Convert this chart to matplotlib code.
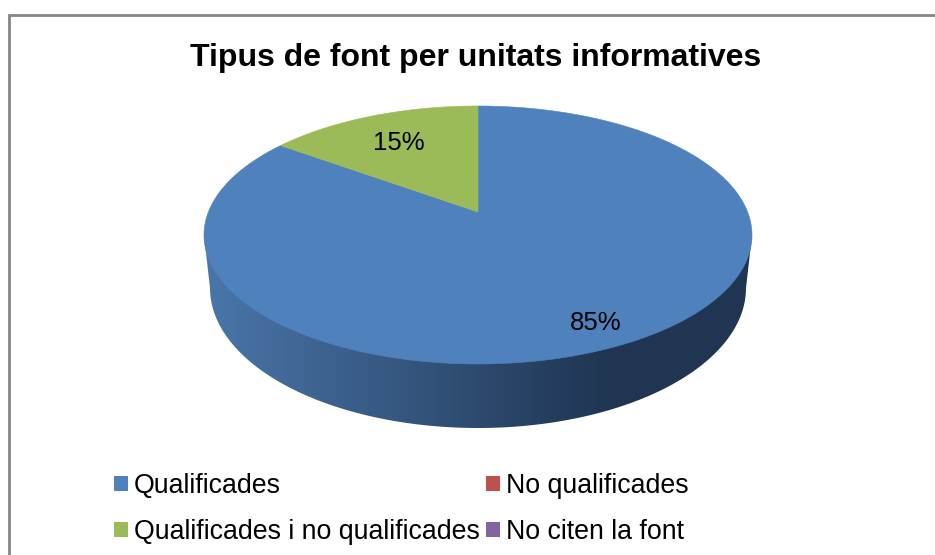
# -*- coding: utf-8 -*-
"""3D-look pie chart: tipus de font per unitats informatives."""

import numpy as np
import matplotlib
matplotlib.use("Agg")
import matplotlib.pyplot as plt
from matplotlib.patches import Patch, Polygon
from matplotlib.colors import LinearSegmentedColormap

plt.rcParams["font.family"] = ["Liberation Sans", "DejaVu Sans"]

TITLE = "Tipus de font per unitats informatives"
CATEGORIES = ["Qualificades", "No qualificades",
              "Qualificades i no qualificades", "No citen la font"]
VALUES = [85, 0, 15, 0]
COLORS = ["#4F81BD", "#C0504D", "#9BBB59", "#8064A2"]

# ── Pie geometry, in image pixels ────────────────────────────────────────────
CX = 478.0          # horizontal centre
TOP_Y = 106.0       # far edge of the top face
APEX_Y = 212.0      # where the slices meet
FRONT_Y = 364.0     # near edge of the top face
HALF_W = 274.0      # half width of the top face
BASE_CY = 288.0     # bottom ellipse of the side wall
BASE_RX = 268.0
BASE_RY = 140.0
SIDE_LEFT = "#4A76AA"
SIDE_DARK = "#1F3552"
SIDE_DARK_X = 610.0  # side is flat dark from here on


def project(theta):
    """Map clockwise-from-top angle on the unit circle to the tilted face."""
    u, v = np.sin(theta), np.cos(theta)
    # perspective: the pie centre lands above the middle of the ellipse
    c = (2 * APEX_Y - TOP_Y - FRONT_Y) / (TOP_Y - FRONT_Y)
    b = TOP_Y * (1 + c) - APEX_Y
    k = HALF_W * np.sqrt(1 - c * c)
    w = 1 + c * v
    return CX + k * u / w, (APEX_Y + b * v) / w


def side_outline():
    """Top face's widest points joined through the lower half of the base."""
    t = np.linspace(0, 2 * np.pi, 720, endpoint=False)
    xs, ys = project(t)
    left, right = xs.argmin(), xs.argmax()
    a = np.linspace(-np.pi / 2, np.pi / 2, 200)
    low_x = CX + BASE_RX * np.sin(a)
    low_y = BASE_CY + BASE_RY * np.cos(a)
    return np.column_stack([
        np.r_[xs[left], low_x, xs[right]],
        np.r_[ys[left], low_y, ys[right]],
    ])


fig = plt.figure(figsize=(9.35, 5.55), dpi=100)
ax = fig.add_axes([0, 0, 1, 1])
ax.set_xlim(0, 935)
ax.set_ylim(555, 0)
ax.axis("off")

# chart frame: only left and top edges are in view
ax.plot([8.5, 8.5, 935], [555, 15, 15], color="#868686", lw=2.0,
        solid_joinstyle="miter", zorder=1)

ax.text(476, 58, TITLE, ha="center", va="center", fontsize=23,
        fontweight="bold", color="black")

# side wall
cmap = LinearSegmentedColormap.from_list("side", [SIDE_LEFT, SIDE_DARK])
left_x = CX - HALF_W
ramp = np.clip((np.arange(left_x, CX + HALF_W) - left_x) / (SIDE_DARK_X - left_x), 0, 1)
im = ax.imshow(ramp[np.newaxis, :], cmap=cmap, vmin=0, vmax=1, aspect="auto",
               extent=(left_x, CX + HALF_W, 440, 225), zorder=2)
ax.set_xlim(0, 935)
ax.set_ylim(555, 0)
clip = Polygon(side_outline(), closed=True, transform=ax.transData,
               fc="none", ec="none")
ax.add_patch(clip)
im.set_clip_path(clip)

# top face, slices run clockwise from the top
total = float(sum(VALUES))
start = 0.0
for value, color in zip(VALUES, COLORS):
    if value == 0:
        continue
    stop = start + 2 * np.pi * value / total
    x, y = project(np.linspace(start, stop, 400))
    ax.fill(np.r_[CX, x], np.r_[APEX_Y, y], color=color, lw=0.4, zorder=3)
    start = stop

ax.text(596, 323, "%d%%" % VALUES[0], ha="center", va="center",
        fontsize=18.5, color="black", zorder=4)
ax.text(399, 143, "%d%%" % VALUES[2], ha="center", va="center",
        fontsize=18.5, color="black", zorder=4)

# legend fills column by column, the source reads row by row
handles = [Patch(fc=c, ec="none", label=n) for c, n in zip(COLORS, CATEGORIES)]
handles = [handles[0], handles[2], handles[1], handles[3]]
ax.legend(handles=handles, ncols=2, loc="upper left",
          bbox_to_anchor=(114 / 935, 1 - 473 / 555), frameon=False,
          fontsize=19.3, handlelength=0.52, handleheight=0.52,
          handletextpad=0.22, labelspacing=0.74, columnspacing=0.25,
          borderpad=0.0, borderaxespad=0.0)

fig.savefig("out.png", dpi=100)
